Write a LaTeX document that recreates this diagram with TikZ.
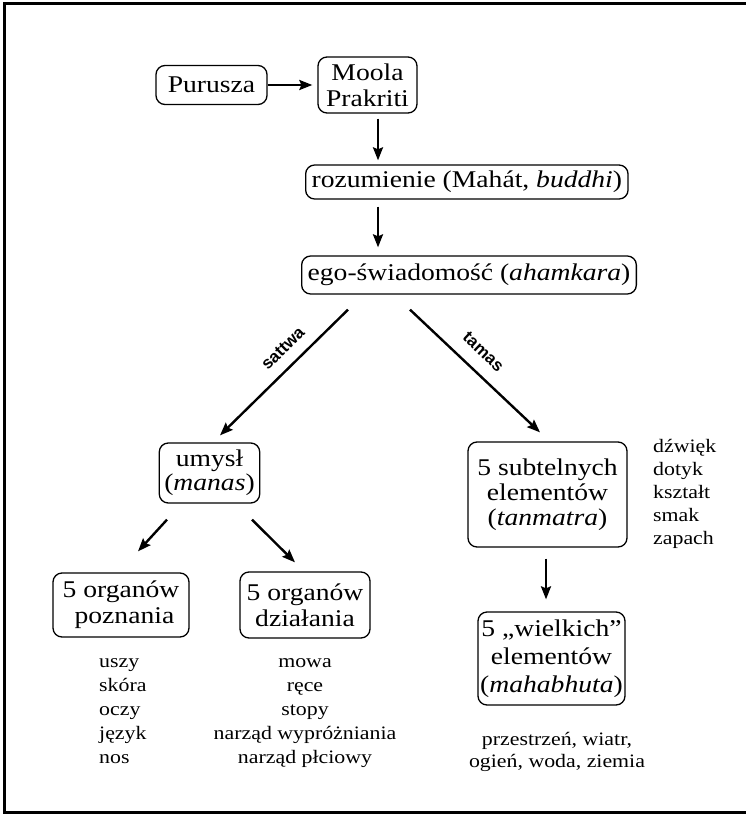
\documentclass[tikz,border=0pt]{standalone}
\usepackage{fontspec}
\setmainfont[FakeStretch=1.15]{Liberation Serif}
\newfontfamily\lblfont{Liberation Sans}
\usetikzlibrary{arrows.meta,calc}
\tikzset{
  box/.style={draw, line width=1.3pt, rounded corners=9pt, align=center, inner xsep=5pt, inner ysep=2pt,
    font=\fontsize{24}{26}\selectfont},
  arr/.style={line width=2.4pt, -{Stealth[length=13pt,width=10pt,inset=2pt]}},
  lst/.style={inner sep=0pt, font=\fontsize{19}{24}\selectfont},
  lbl/.style={inner sep=0pt, font=\lblfont\bfseries\fontsize{17}{17}\selectfont}
}
\newcommand{\lstrut}{\rule{0pt}{15pt}}
\begin{document}
\begin{tikzpicture}[x=1pt,y=-1pt]
\useasboundingbox (0,0) rectangle (746,816);
\fill[white] (0,0) rectangle (746,816);
\draw[line width=3pt] (746,3.5) -- (4.5,3.5) -- (4.5,812.5) -- (746,812.5);

\node[box, minimum width=111pt, minimum height=39pt] (pur) at (211.5,85) {Purusza};
\node[box, minimum width=99pt, minimum height=56pt] (moola) at (367.5,85) {Moola\\Prakriti};
\node[box, anchor=west, minimum height=34pt, inner xsep=6pt] (roz) at (305,182) {rozumienie (Mahát, \textit{buddhi})};
\node[box, anchor=west, minimum height=38pt, inner xsep=6pt] (ego) at (301,275) {ego-świadomość (\textit{ahamkara})};
\node[box, minimum width=99pt, minimum height=60pt, font=\fontsize{24}{24}\selectfont] (umysl) at (209.5,473) {umysł\\(\textit{manas})};
\node[box, minimum width=136pt, minimum height=64pt] (pozn) at (121,605) {5 organów\\\ poznania};
\node[box, minimum width=130pt, minimum height=66pt] (dzial) at (305,605) {5 organów\\działania};
\node[box, minimum width=159pt, minimum height=105pt, font=\fontsize{24}{25}\selectfont] (tanm) at (547.5,494.5) {5 subtelnych\\elementów\\(\textit{tanmatra})};
\node[box, minimum width=147pt, minimum height=93pt, inner xsep=2pt, font=\fontsize{24}{28}\selectfont] (maha) at (551.5,658.5) {5 „wielkich”\\elementów\\(\textit{mahabhuta})};

\node[lst, anchor=north west, align=left] (lpozn) at (99,652) {\lstrut uszy\\skóra\\oczy\\język\\nos};
\node[lst, anchor=north, align=center] (ldzial) at (305,652) {\lstrut mowa\\ręce\\stopy\\narząd wypróżniania\\narząd płciowy};
\node[lst, anchor=north west, align=left, font=\fontsize{19}{23}\selectfont] (ltanm) at (653,437) {\lstrut dźwięk\\dotyk\\kształt\\smak\\zapach};
\node[lst, anchor=north, align=center, font=\fontsize{19}{22}\selectfont] (lmaha) at (557,730) {\lstrut przestrzeń, wiatr,\\ogień, woda, ziemia};

\draw[arr] (pur.east) -- ($(moola.west)+(-5,0)$);
\draw[arr] ($(moola.south)+(10.5,5)$) -- ($(roz.north west)+(73,-4)$);
\draw[arr] ($(roz.south west)+(73,7)$) -- ($(ego.north west)+(77,-8)$);
\draw[arr] ($(ego.south west)+(47,15)$) -- node[lbl, sloped, above=11pt, pos=0.41] (sat) {sattwa} ($(umysl.north)+(10.5,-7)$);
\draw[arr] ($(ego.south west)+(109,15)$) -- node[lbl, sloped, above=13pt, pos=0.46] (tam) {tamas} ($(tanm.north)+(-7.5,-9)$);
\draw[arr] ($(umysl.south)+(-42.5,16)$) -- ($(pozn.north)+(17,-21)$);
\draw[arr] ($(umysl.south)+(42.5,16)$) -- ($(dzial.north)+(-10,-9)$);
\draw[arr] ($(tanm.south)+(-1.5,11)$) -- ($(maha.north)+(-5.5,-12)$);
\end{tikzpicture}
\end{document}
